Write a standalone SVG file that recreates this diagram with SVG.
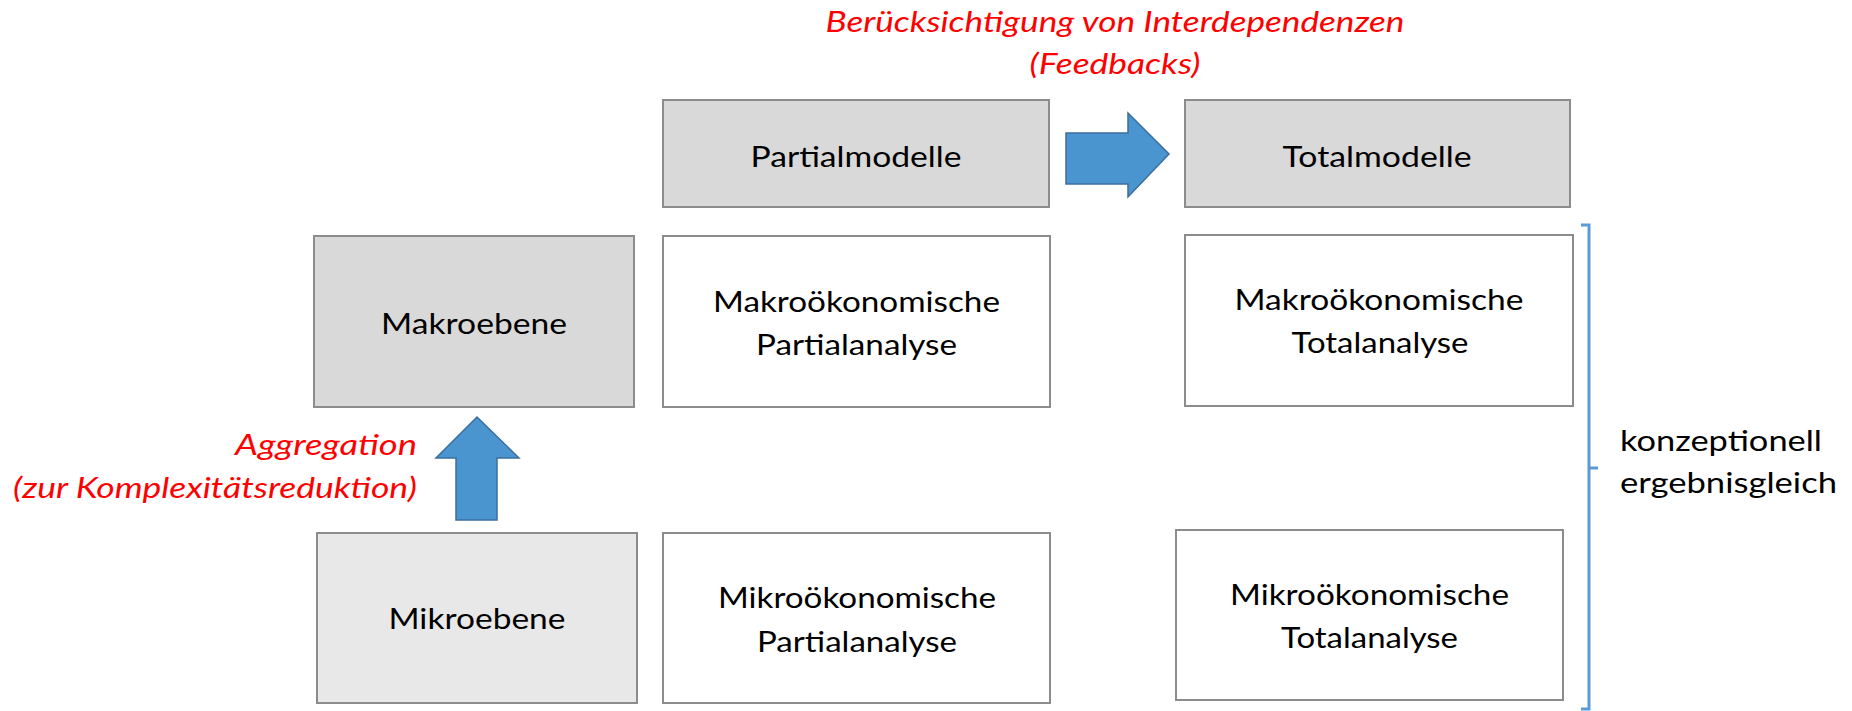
<svg xmlns="http://www.w3.org/2000/svg" width="1852" height="711" viewBox="0 0 1852 711">
<style>
.box{stroke:#8c8c8c;stroke-width:2}
.g1{fill:#d9d9d9}
.g2{fill:#e8e8e8}
.w{fill:#ffffff}
text{font-family:Lato,"Liberation Sans",sans-serif;font-size:29px;fill:#000}
.c{text-anchor:middle}
.red{fill:#ff0000;font-style:italic}
.arrow{fill:#4a94d0;stroke:#3b6f9e;stroke-width:1.5}
.brace{fill:none;stroke:#5b9bd5;stroke-width:3}
</style>
<rect width="1852" height="711" fill="#ffffff"/>
<g id="label-interdependenzen">
<text class="red c" x="1115" y="32" textLength="579" lengthAdjust="spacingAndGlyphs">Berücksichtigung von Interdependenzen</text>
<text class="red c" x="1115" y="74" textLength="171" lengthAdjust="spacingAndGlyphs">(Feedbacks)</text>
</g>
<g id="node-partialmodelle">
<rect class="box g1" x="663" y="100" width="386" height="107"/>
<text class="c" x="856" y="167" textLength="211" lengthAdjust="spacingAndGlyphs">Partialmodelle</text>
</g>
<g id="node-totalmodelle">
<rect class="box g1" x="1185" y="100" width="385" height="107"/>
<text class="c" x="1377" y="167" textLength="189" lengthAdjust="spacingAndGlyphs">Totalmodelle</text>
</g>
<g id="node-makroebene">
<rect class="box g1" x="314" y="236" width="320" height="171"/>
<text class="c" x="474" y="334" textLength="186" lengthAdjust="spacingAndGlyphs">Makroebene</text>
</g>
<g id="node-mikroebene">
<rect class="box g2" x="317" y="533" width="320" height="170"/>
<text class="c" x="477" y="629" textLength="177" lengthAdjust="spacingAndGlyphs">Mikroebene</text>
</g>
<g id="node-makro-partial">
<rect class="box w" x="663" y="236" width="387" height="171"/>
<text class="c" x="856.5" y="312" textLength="287" lengthAdjust="spacingAndGlyphs">Makroökonomische</text>
<text class="c" x="856.5" y="355" textLength="201" lengthAdjust="spacingAndGlyphs">Partialanalyse</text>
</g>
<g id="node-mikro-partial">
<rect class="box w" x="663" y="533" width="387" height="170"/>
<text class="c" x="857" y="608" textLength="278" lengthAdjust="spacingAndGlyphs">Mikroökonomische</text>
<text class="c" x="857" y="652" textLength="200" lengthAdjust="spacingAndGlyphs">Partialanalyse</text>
</g>
<g id="node-makro-total">
<rect class="box w" x="1185" y="235" width="388" height="171"/>
<text class="c" x="1379" y="310" textLength="289" lengthAdjust="spacingAndGlyphs">Makroökonomische</text>
<text class="c" x="1380" y="353" textLength="177" lengthAdjust="spacingAndGlyphs">Totalanalyse</text>
</g>
<g id="node-mikro-total">
<rect class="box w" x="1176" y="530" width="387" height="170"/>
<text class="c" x="1369.5" y="605" textLength="279" lengthAdjust="spacingAndGlyphs">Mikroökonomische</text>
<text class="c" x="1369.5" y="648" textLength="177" lengthAdjust="spacingAndGlyphs">Totalanalyse</text>
</g>
<g id="label-aggregation">
<text class="red" x="235" y="455" textLength="182" lengthAdjust="spacingAndGlyphs">Aggregation</text>
<text class="red" x="13" y="498" textLength="404" lengthAdjust="spacingAndGlyphs">(zur Komplexitätsreduktion)</text>
</g>
<g id="label-ergebnisgleich">
<text x="1620" y="451" textLength="202" lengthAdjust="spacingAndGlyphs">konzeptionell</text>
<text x="1620" y="493" textLength="217" lengthAdjust="spacingAndGlyphs">ergebnisgleich</text>
</g>
<g id="connectors">
<polygon class="arrow" points="1066,133 1128,133 1128,113 1169,154 1128,197 1128,184 1066,184"/>
<polygon class="arrow" points="456,520 456,458 436,458 477,417 519,458 497,458 497,520"/>
<path class="brace" d="M1581,225 H1589 V709 H1581 M1589,468 H1598"/>
</g>
</svg>
